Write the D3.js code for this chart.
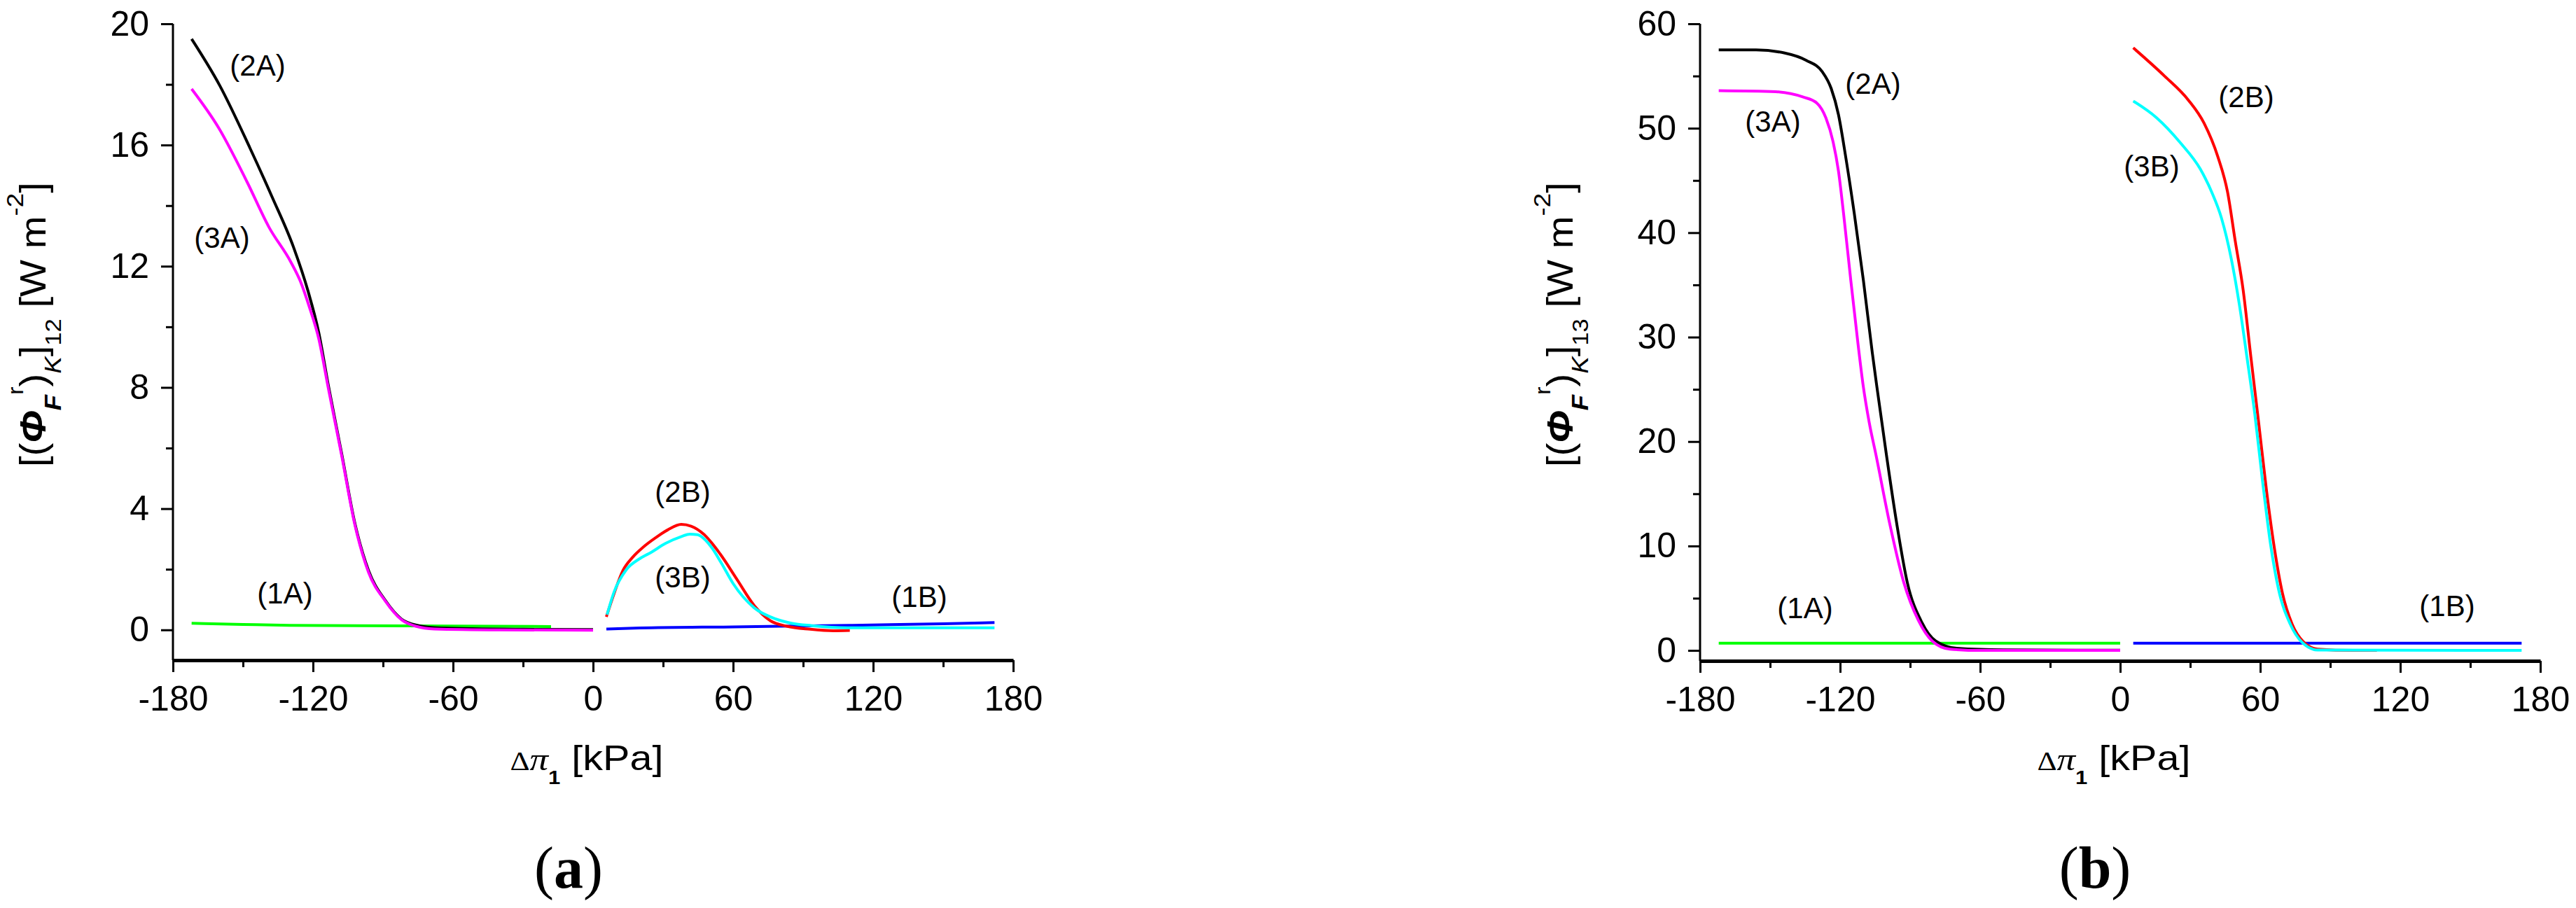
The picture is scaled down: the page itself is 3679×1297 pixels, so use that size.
<!DOCTYPE html>
<html>
<head>
<meta charset="utf-8">
<script src="https://cdn.jsdelivr.net/npm/d3@7"></script>
<style>
body{margin:0;background:#fff;}
svg text{font-family:"Liberation Sans",Arial,sans-serif;fill:#000;}
</style>
</head>
<body>
<div id="plotdiv"></div>
<script>
// ticks
var xTicks = [-180,-120,-60,0,60,120,180];
var xMinorTicks = [-150,-90,-30,30,90,150];
var yTicksA = [0,4,8,12,16,20];
var yMinorA = [2,6,10,14,18];
var yTicksB = [0,10,20,30,40,50,60];
var yMinorB = [5,15,25,35,45,55];

// panel (a): [delta pi, flux]
var a1A = [[-172,0.22],[-150,0.18],[-130,0.15],[-80,0.13],[-18,0.11]];
var a1B = [[5.7,0.03],[20,0.06],[60,0.1],[110,0.15],[150,0.2],[172,0.24]];
var a2A = [[-172,19.5],[-160,17.97],[-147,15.9],[-137.6,14.3],[-128.2,12.6],[-122.2,11.2],[-117.5,9.8],[-113.5,8.1],[-107.7,5.81],[-102,3.5],[-96.2,1.96],[-89,0.97],[-82,0.35],[-76,0.16],[-65,0.06],[-30,0.02],[0,0.01]];
var a3A = [[-172,17.85],[-160.3,16.55],[-148.3,14.79],[-138.8,13.28],[-129.5,12.14],[-125.5,11.52],[-121.5,10.64],[-117.5,9.6],[-113.5,8.0],[-107.7,5.75],[-102,3.45],[-96.2,1.9],[-89,0.95],[-82,0.33],[-76,0.12],[-68,0.03],[-40,0.0],[0,-0.01]];
var a2B = [[5.7,0.43],[9,1.2],[12.8,1.96],[17,2.4],[21.5,2.73],[27,3.05],[32,3.3],[37.8,3.48],[42,3.42],[47.5,3.15],[54.5,2.5],[61.7,1.66],[69,0.81],[76,0.3],[83,0.12],[93,0.02],[103,-0.03],[110,-0.02]];
var a3B = [[6,0.5],[9,1.25],[14.2,1.98],[20,2.35],[24.9,2.56],[31,2.85],[37.9,3.08],[41.5,3.16],[44.7,3.14],[50.8,2.72],[55,2.2],[60,1.53],[69,0.73],[78.3,0.36],[85,0.22],[93.6,0.14],[109,0.07],[172,0.07]];
var labelsA = [["(2A)",-143.7,18.3],["(3A)",-159,12.6],["(1A)",-132,0.87],["(2B)",38.4,4.22],["(3B)",38.4,1.4],["(1B)",139.8,0.76]];

// panel (b)
var b1A = [[-172,0.7],[0,0.7]];
var b1B = [[5.6,0.7],[172,0.7]];
var b2A = [[-172,57.5],[-156,57.5],[-143.7,57.2],[-134.5,56.5],[-127.6,55.4],[-123.8,53.8],[-120.7,51.3],[-117.7,47.4],[-113.9,41.8],[-110,35.4],[-106.2,28.5],[-104.4,25.5],[-100.2,18.8],[-95.7,12.1],[-91.2,6.5],[-85,2.7],[-79,0.9],[-70,0.2],[-50,0.05],[0,0.02]];
var b3A = [[-172,53.6],[-147.6,53.5],[-136,53.0],[-129.9,52.4],[-126.1,51.0],[-123,48.7],[-120.7,45.9],[-118.5,41.8],[-115.4,35.4],[-112.3,29.3],[-110.2,25.5],[-107.5,21.8],[-104.7,18.8],[-98.7,12.1],[-92.7,6.5],[-86.5,2.9],[-80.5,0.9],[-73,0.13],[-60,0.0],[0,0.0]];
var b2B = [[5.6,57.7],[19,55.0],[29.2,52.7],[35.9,50.5],[41.8,47.3],[46,43.9],[49.3,39.2],[52.7,34.5],[56,28.1],[59.4,21.7],[62.7,15.3],[66.1,9.75],[69.5,5.5],[73.7,2.5],[78.7,0.78],[84.6,0.13],[100,0.0],[110,0.0]];
var b3B = [[5.6,52.6],[15.6,51.0],[25.8,48.6],[34.3,46.1],[39.2,43.9],[43.4,41.4],[47.6,37.5],[51,33.2],[54.3,28.1],[57.7,22.6],[61,16.2],[64.4,10.2],[67.8,5.9],[72.9,2.5],[77.9,0.78],[84.6,0.04],[172,0.0]];
var labelsB = [["(2A)",-105.9,53.3],["(3A)",-148.8,49.7],["(1A)",-135,3.09],["(2B)",54,52.0],["(3B)",13.5,45.4],["(1B)",140.1,3.29]];

var svg = d3.select("#plotdiv")
	.append("svg")
	.attr("width",3679)
	.attr("height",1297)
	.style("background","#fff");

drawPanel({left:247, right:1447, top:34, bottom:943, yDomain:[-1,20], yTicks:yTicksA, yMinor:yMinorA,
	series:[[a1A,"#00ff00"],[a1B,"#0000ff"],[a2A,"#000000"],[a3A,"#ff00ff"],[a2B,"#ff0000"],[a3B,"#00ffff"]],
	labels:labelsA, sub:"12", letter:"a", letterX:812});
drawPanel({left:2428, right:3628, top:34, bottom:944, yDomain:[-1,60], yTicks:yTicksB, yMinor:yMinorB,
	series:[[b1A,"#00ff00"],[b1B,"#0000ff"],[b2A,"#000000"],[b3A,"#ff00ff"],[b2B,"#ff0000"],[b3B,"#00ffff"]],
	labels:labelsB, sub:"13", letter:"b", letterX:2992});

function drawPanel(p)
{
	var x = d3.scaleLinear().domain([-180,180]).range([p.left,p.right]);
	var y = d3.scaleLinear().domain(p.yDomain).range([p.bottom,p.top]);
	var g = svg.append("g");
	var plain = function(d){return String(d);};   // keep hyphen minus like the original

	var line = d3.line()
		.x(function(d){return x(d[0]);})
		.y(function(d){return y(d[1]);})
		.curve(d3.curveMonotoneX);

	p.series.forEach(function(s){
		g.append("path")
			.attr("d",line(s[0]))
			.attr("fill","none")
			.attr("stroke",s[1])
			.attr("stroke-width",4);
	});

	g.selectAll(".clabel")
		.data(p.labels)
		.enter().append("text")
		.attr("class","clabel")
		.attr("x",function(d){return x(d[1]);})
		.attr("y",function(d){return y(d[2]);})
		.attr("text-anchor","middle")
		.style("font-size","42px")
		.text(function(d){return d[0];});

	// minor ticks first, then major axis on top
	var xMinorAxis = g.append("g")
		.attr("transform","translate(0,"+p.bottom+")")
		.call(d3.axisBottom(x).tickValues(xMinorTicks).tickSize(10).tickFormat(""));
	xMinorAxis.select(".domain").remove();
	xMinorAxis.selectAll("line").attr("stroke-width",3);

	var yMinorAxis = g.append("g")
		.attr("transform","translate("+p.left+",0)")
		.call(d3.axisLeft(y).tickValues(p.yMinor).tickSize(10).tickFormat(""));
	yMinorAxis.select(".domain").remove();
	yMinorAxis.selectAll("line").attr("stroke-width",3);

	var yAxis = g.append("g")
		.attr("transform","translate("+p.left+",0)")
		.call(d3.axisLeft(y).tickValues(p.yTicks).tickFormat(plain).tickSize(17).tickSizeOuter(0).tickPadding(17));
	yAxis.select(".domain").attr("stroke-width",3).attr("d","M0,"+p.bottom+"V"+p.top);
	yAxis.selectAll("line").attr("stroke-width",3);
	yAxis.selectAll("text").style("font-size","50px").attr("font-family",null);

	var xAxis = g.append("g")
		.attr("transform","translate(0,"+p.bottom+")")
		.call(d3.axisBottom(x).tickValues(xTicks).tickFormat(plain).tickSize(17).tickSizeOuter(0).tickPadding(19));
	xAxis.select(".domain").attr("stroke-width",5);
	xAxis.selectAll("line").attr("stroke-width",3);
	xAxis.selectAll("text").style("font-size","50px").attr("font-family",null);

	// y title, squeezed along its length to fit the span of the original (y 667 -> 260)
	var ylx = p.left - 182;
	var yl = g.append("text")
		.attr("text-anchor","start")
		.style("font-size","52px");
	yl.append("tspan").text("[(");
	yl.append("tspan").text("Φ").style("font-weight","bold").style("font-style","italic");
	yl.append("tspan").text("F").style("font-weight","bold").style("font-style","italic").style("font-size","34px").attr("dy",22);
	yl.append("tspan").text("r").style("font-size","32px").attr("dy",-54);
	yl.append("tspan").text(")").attr("dy",32);
	yl.append("tspan").text("K").style("font-style","italic").style("font-size","34px").attr("dy",22);
	yl.append("tspan").text("]").attr("dy",-22);
	yl.append("tspan").text(p.sub).style("font-size","32px").attr("dy",22);
	yl.append("tspan").text(" [W m").attr("dy",-22);
	yl.append("tspan").text("-2").style("font-size","34px").attr("dy",-32);
	yl.append("tspan").text("]").attr("dy",32);
	var ylen = yl.node().getBBox().width;
	yl.attr("transform","translate("+ylx+",667) rotate(-90) scale("+(407/ylen)+",1)");

	// x title, fitted to 219px like the original
	var xl = g.append("text")
		.attr("text-anchor","start")
		.style("font-size","50px");
	xl.append("tspan").text("Δ").style("font-family","Liberation Serif").style("font-size","38px");
	xl.append("tspan").text("π").style("font-family","Liberation Serif").style("font-style","italic").style("font-size","46px");
	xl.append("tspan").text("1").style("font-weight","bold").style("font-size","27px").attr("dy",20);
	xl.append("tspan").text(" [kPa]").attr("dy",-20);
	var xlen = xl.node().getBBox().width;
	var xStart = (p.left+p.right)/2 - 9 - 219/2;
	xl.attr("transform","translate("+xStart+",1100) scale("+(219/xlen)+",1)");

	// panel letter
	var pl = g.append("text")
		.attr("x",p.letterX)
		.attr("y",1268)
		.attr("text-anchor","middle")
		.style("font-family","Liberation Serif")
		.style("font-size","84px");
	pl.append("tspan").text("(");
	pl.append("tspan").text(p.letter).style("font-weight","bold");
	pl.append("tspan").text(")");
}
</script>
</body>
</html>
